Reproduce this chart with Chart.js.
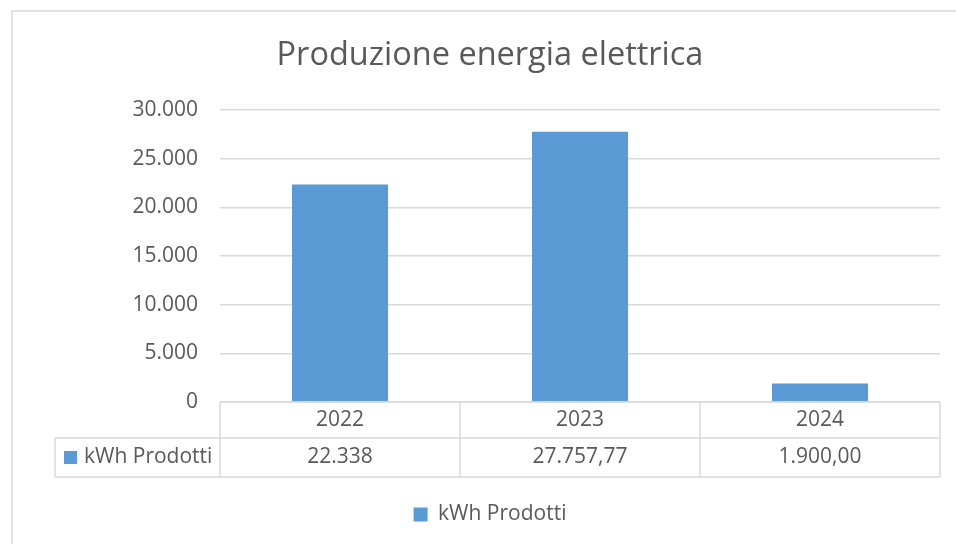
<!DOCTYPE html>
<html>
<head>
<meta charset="utf-8">
<script src="https://cdn.jsdelivr.net/npm/chart.js@4"></script>
<style>
    html, body { margin: 0; padding: 0; background: #fff; }
    #wrap { width: 956px; height: 544px; position: relative; }
</style>
</head>
<body>
<div id="wrap"><canvas id="energyChart"></canvas></div>
<script>
// Data
const years = ['2022', '2023', '2024'];
const kwhProdotti = [22338, 27757.77, 1900];
const kwhDecimals = [0, 2, 2];
const seriesName = 'kWh Prodotti';
const yTicks = [0, 5000, 10000, 15000, 20000, 25000, 30000];

const barColor = '#5b9bd5';
const textColor = '#595959';
const lineColor = '#d9d9d9';
const fontFamily = "'Open Sans', 'Noto Sans', sans-serif";

// Italian style number: 27.757,77
function formatIt(v, dec) {
    const parts = v.toFixed(dec).split('.');
    const intPart = parts[0].replace(/\B(?=(\d{3})+(?!\d))/g, '.');
    return parts[1] ? intPart + ',' + parts[1] : intPart;
}

// Frame + data table under the x axis
const dataTablePlugin = {
    id: 'dataTable',
    beforeDraw(chart) {
        const c = chart.ctx;
        c.save();
        c.fillStyle = '#fff';
        c.fillRect(0, 0, chart.width, chart.height);
        c.strokeStyle = lineColor;
        c.lineWidth = 1.5;
        c.beginPath();
        c.moveTo(12, chart.height);
        c.lineTo(12, 11);
        c.lineTo(chart.width, 11);
        c.stroke();
        c.restore();
    },
    afterDraw(chart) {
        const c = chart.ctx;
        const x = chart.scales.x;
        const area = chart.chartArea;
        const catW = x.width / years.length;
        const top = area.bottom;
        const row1 = top + 36;
        const row2 = top + 75;
        const leftCell = 55;

        c.save();
        c.strokeStyle = lineColor;
        c.lineWidth = 1.5;
        c.beginPath();
        c.moveTo(area.left, top); c.lineTo(area.right, top);
        c.moveTo(leftCell, row1); c.lineTo(area.right, row1);
        c.moveTo(leftCell, row2); c.lineTo(area.right, row2);
        c.moveTo(leftCell, row1); c.lineTo(leftCell, row2);
        for (let i = 0; i <= years.length; i++) {
            const px = x.left + catW * i;
            c.moveTo(px, top); c.lineTo(px, row2);
        }
        c.stroke();

        const midY = (row1 + row2) / 2;
        c.font = '21px ' + fontFamily;
        c.fillStyle = textColor;
        c.textAlign = 'center';
        c.textBaseline = 'middle';
        kwhProdotti.forEach((v, i) => {
            c.fillText(formatIt(v, kwhDecimals[i]), x.getPixelForValue(i), midY);
        });

        c.fillStyle = barColor;
        c.fillRect(64, midY - 6.5, 13, 13);
        c.fillStyle = textColor;
        c.textAlign = 'left';
        c.fillText(seriesName, 84, midY);
        c.restore();
    }
};

const ctx = document.getElementById('energyChart').getContext('2d');
const energyChart = new Chart(ctx, {
    type: 'bar',
    data: {
        labels: years,
        datasets: [{
            label: seriesName,
            data: kwhProdotti,
            backgroundColor: barColor,
            barPercentage: 0.4,
            categoryPercentage: 1.0
        }]
    },
    options: {
        responsive: true,
        maintainAspectRatio: false,
        animation: false,
        layout: { padding: { left: 40, right: 16, top: 0, bottom: 9 } },
        plugins: {
            title: {
                display: true,
                text: 'Produzione energia elettrica',
                color: textColor,
                font: { family: fontFamily, size: 32.5, weight: 'normal', lineHeight: 1.2 },
                padding: { top: 36, bottom: 35 }
            },
            legend: {
                display: true,
                position: 'bottom',
                labels: {
                    color: textColor,
                    font: { family: fontFamily, size: 21 },
                    boxWidth: 14,
                    boxHeight: 14,
                    padding: 10
                }
            },
            tooltip: { enabled: false }
        },
        scales: {
            x: {
                grid: { display: false },
                border: { display: false },
                ticks: {
                    color: textColor,
                    font: { family: fontFamily, size: 21 },
                    padding: -3,
                    maxRotation: 0
                },
                afterFit(scale) { scale.height = 92; }
            },
            y: {
                min: 0,
                max: 30000,
                afterBuildTicks(scale) { scale.ticks = yTicks.map(v => ({ value: v })); },
                grid: { color: lineColor, lineWidth: 1.5, drawTicks: false },
                border: { display: false },
                ticks: {
                    color: textColor,
                    font: { family: fontFamily, size: 21 },
                    padding: 22,
                    callback: v => formatIt(v, 0)
                },
                afterFit(scale) { scale.width = 180; }
            }
        }
    },
    plugins: [dataTablePlugin]
});
</script>
</body>
</html>
